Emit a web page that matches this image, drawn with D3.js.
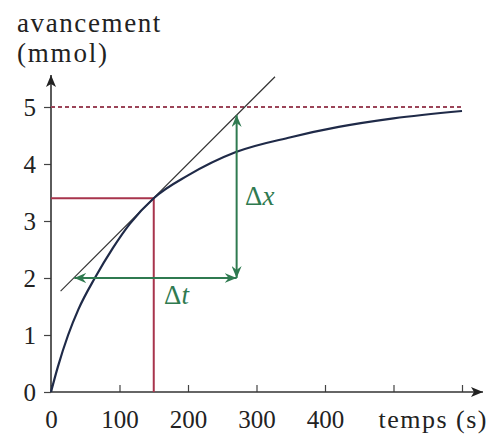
<!DOCTYPE html>
<html>
<head>
<meta charset="utf-8">
<script src="https://cdn.jsdelivr.net/npm/d3@7"></script>
<style>
  body { margin: 0; background: #fff; }
</style>
</head>
<body>
<svg id="chart" width="492" height="439"></svg>
<script>
// values
var curveT = [0, 10, 25, 40, 64, 90, 115, 150, 200, 270, 350, 420, 500, 600];
var curveX = [0, 0.44, 1.0, 1.45, 2.0, 2.52, 2.95, 3.4, 3.8, 4.21, 4.47, 4.65, 4.8, 4.93];
var tangentT = [14, 327];
var tangentX = [1.77, 5.53];
var pointT = 150, pointX = 3.4;      // tangent point
var xMax = 5;                        // dashed asymptote
var dtT = [34, 271], dtX = 2;        // horizontal arrow (delta t)
var dxT = 271, dxX = [2, 4.86];      // vertical arrow (delta x)
var xTicks = [0, 100, 200, 300, 400, 500, 600];
var yTicks = [0, 1, 2, 3, 4, 5];

var FONT = "'Liberation Serif', 'DejaVu Serif', serif";
var svg = d3.select("#chart");

var x = d3.scaleLinear().domain([0, 600]).range([51, 462]);
var y = d3.scaleLinear().domain([0, 5]).range([392, 107]);

var defs = svg.append("defs");
defs.append("marker")
    .attr("id", "axisHead")
    .attr("viewBox", "0 0 12 10")
    .attr("refX", 12).attr("refY", 5)
    .attr("markerWidth", 12).attr("markerHeight", 10)
    .attr("markerUnits", "userSpaceOnUse")
    .attr("orient", "auto")
  .append("path")
    .attr("d", "M0,0 L12,5 L0,10 L3,5 Z")
    .attr("fill", "#222");
defs.append("marker")
    .attr("id", "greenHead")
    .attr("viewBox", "0 0 12 10")
    .attr("refX", 12).attr("refY", 5)
    .attr("markerWidth", 12).attr("markerHeight", 10)
    .attr("markerUnits", "userSpaceOnUse")
    .attr("orient", "auto-start-reverse")
  .append("path")
    .attr("d", "M0,0 L12,5 L0,10 L4,5 Z")
    .attr("fill", "#2f7a50");

function styleAxis(g){
    g.select(".domain").remove();
    g.attr("font-family", null).attr("font-size", null);
    g.selectAll("line").attr("stroke", "#444").attr("stroke-width", 1.2);
    g.selectAll("text").attr("fill", "#222")
        .style("font-family", FONT).style("font-size", "25px");
}

// axes (ticks + labels)
svg.append("g")
    .attr("transform", "translate(0," + y(0) + ")")
    .call(d3.axisBottom(x).tickValues(xTicks).tickSizeInner(-7).tickSizeOuter(0).tickPadding(18)
        .tickFormat(function(d){ return d <= 400 ? d : ""; }))
    .call(styleAxis);

svg.append("g")
    .attr("transform", "translate(" + x(0) + ",0)")
    .call(d3.axisLeft(y).tickValues(yTicks).tickSizeInner(7).tickSizeOuter(0).tickPadding(8)
        .tickFormat(d3.format("d")))
    .call(styleAxis);

// axis lines with arrows
svg.append("line")
    .attr("x1", x(0)).attr("y1", y(0)).attr("x2", 483).attr("y2", y(0))
    .attr("stroke", "#333").attr("stroke-width", 1.6)
    .attr("marker-end", "url(#axisHead)");
svg.append("line")
    .attr("x1", x(0)).attr("y1", y(0)).attr("x2", x(0)).attr("y2", 75)
    .attr("stroke", "#333").attr("stroke-width", 1.6)
    .attr("marker-end", "url(#axisHead)");

function label(tx, ty, size, str){
    return svg.append("text")
        .attr("x", tx).attr("y", ty)
        .style("font-family", FONT).style("font-size", size + "px")
        .attr("fill", "#222")
        .text(str);
}
label(17, 32, 27, "avancement").style("letter-spacing", "1.6px");
label(17, 62, 27, "(mmol)").style("letter-spacing", "1.8px");
label(488, 428, 26, "temps (s)").attr("text-anchor", "end").style("letter-spacing", "1.5px");

// dashed asymptote
svg.append("line")
    .attr("x1", x(0)).attr("x2", x(600))
    .attr("y1", y(xMax)).attr("y2", y(xMax))
    .attr("stroke", "#9b4458").attr("stroke-width", 1.8)
    .attr("stroke-dasharray", "4,3");

// red reading lines
svg.append("polyline")
    .attr("points", [[x(0), y(pointX)], [x(pointT), y(pointX)], [x(pointT), y(0)]].join(" "))
    .attr("fill", "none")
    .attr("stroke", "#a8344c").attr("stroke-width", 2);

// tangent
svg.append("line")
    .attr("x1", x(tangentT[0])).attr("y1", y(tangentX[0]))
    .attr("x2", x(tangentT[1])).attr("y2", y(tangentX[1]))
    .attr("stroke", "#333").attr("stroke-width", 1.2);

// curve
var line = d3.line()
    .x(function(d){ return x(d[0]); })
    .y(function(d){ return y(d[1]); })
    .curve(d3.curveMonotoneX);
svg.append("path")
    .datum(d3.zip(curveT, curveX))
    .attr("d", line)
    .attr("fill", "none")
    .attr("stroke", "#1f2a48").attr("stroke-width", 2.2);

// delta arrows
svg.append("line")
    .attr("x1", x(dtT[0])).attr("y1", y(dtX))
    .attr("x2", x(dtT[1])).attr("y2", y(dtX))
    .attr("stroke", "#2f7a50").attr("stroke-width", 2)
    .attr("marker-start", "url(#greenHead)")
    .attr("marker-end", "url(#greenHead)");
svg.append("line")
    .attr("x1", x(dxT)).attr("y1", y(dxX[0]))
    .attr("x2", x(dxT)).attr("y2", y(dxX[1]))
    .attr("stroke", "#2f7a50").attr("stroke-width", 2)
    .attr("marker-start", "url(#greenHead)")
    .attr("marker-end", "url(#greenHead)");

label(245, 205, 27, "Δ").attr("fill", "#2f7a50")
  .append("tspan").style("font-style", "italic").text("x");
label(164, 304, 27, "Δ").attr("fill", "#2f7a50")
  .append("tspan").style("font-style", "italic").text("t");
</script>
</body>
</html>
